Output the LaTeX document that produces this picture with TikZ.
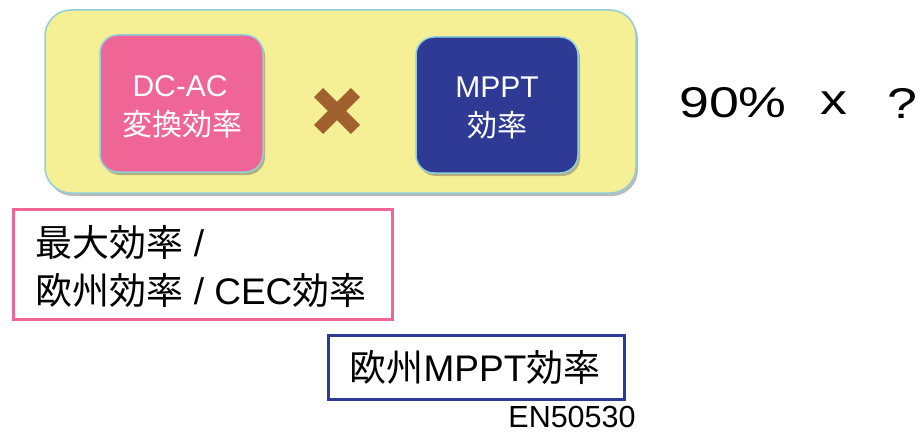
\documentclass[tikz,border=0pt]{standalone}
\usepackage{fontspec}
\setmainfont{Liberation Sans}
\newfontfamily\cjk{Noto Sans CJK JP}
\newfontfamily\widefont[FakeStretch=1.25]{Liberation Sans}
\usetikzlibrary{shadows}
\definecolor{ybox}{HTML}{F5EF95}
\definecolor{edgec}{HTML}{8FCFDB}
\definecolor{pinkc}{HTML}{EF6696}
\definecolor{bluec}{HTML}{2E3A94}
\definecolor{brownx}{HTML}{A0612F}
\tikzset{
  shad/.style={drop shadow={shadow xshift=2pt,shadow yshift=-3pt,opacity=0.45,fill=black!60}},
  colbox/.style={draw=edgec,line width=1.5pt,rounded corners=18pt,shad,inner sep=0pt},
  outbox/.style={draw=#1,line width=3pt,inner sep=0pt,fill=white},
  wtext/.style={text=white,font=\fontsize{30}{38}\selectfont,align=center},
  btext/.style={text=black,font=\fontsize{37}{47}\selectfont}
}
\begin{document}
\begin{tikzpicture}[x=1pt,y=-1pt]
\useasboundingbox (0,0) rectangle (920,433);
\node[draw=edgec,line width=1.5pt,fill=ybox,rounded corners=26pt,
  minimum width=591pt,minimum height=183pt,shad] (frame) at (340.5,101.5) {};
\node[colbox,fill=pinkc,minimum width=163pt,minimum height=137pt] (dcac) at (181.5,103.5) {};
\node[colbox,fill=bluec,minimum width=162pt,minimum height=136pt] (mppt) at (497,105) {};
\node[wtext] (dcac1) at (180,86) {DC-AC};
\node[wtext] (dcac2) at (182,124) {\cjk 変換効率};
\node[wtext] (mppt1) at (497,87) {MPPT};
\node[wtext] (mppt2) at (497,125) {\cjk 効率};
% multiplication sign
\coordinate (xc) at (337,111);
\begin{scope}[drop shadow={shadow xshift=2pt,shadow yshift=-3pt,opacity=0.4,fill=black!60}]
\fill[brownx,shift={(xc)},rotate=45] (-26,-6.5) rectangle (26,6.5);
\fill[brownx,shift={(xc)},rotate=-45] (-26,-6.5) rectangle (26,6.5);
\end{scope}
% right formula
\node[font=\widefont\fontsize{43}{50}\selectfont,anchor=center] (ninety) at (733,103) {90\%};
\node[font=\widefont\fontsize{43}{50}\selectfont,anchor=center] (times) at (834,103) {x};
\node[font=\widefont\fontsize{43}{50}\selectfont,anchor=center] (qmark) at (902,103) {?};
% pink outline box
\node[outbox=pinkc,minimum width=379pt,minimum height=110pt] (pbox) at (202.5,264) {};
\node[btext,anchor=west] (pl1) at (32,243) {\cjk 最大効率\rmfamily\ /};
\node[btext,anchor=west] (pl2) at (32,290) {\cjk 欧州効率\rmfamily\ / CEC\cjk 効率};
% blue outline box
\node[outbox=bluec,minimum width=296pt,minimum height=64pt] (bbox) at (476.5,367.5) {};
\node[btext] (bl) at (475,367) {\cjk 欧州\rmfamily MPPT\cjk 効率};
\node[font=\fontsize{30.5}{34}\selectfont,inner sep=1pt] (en) at (572,417) {EN50530};
\end{tikzpicture}
\end{document}
